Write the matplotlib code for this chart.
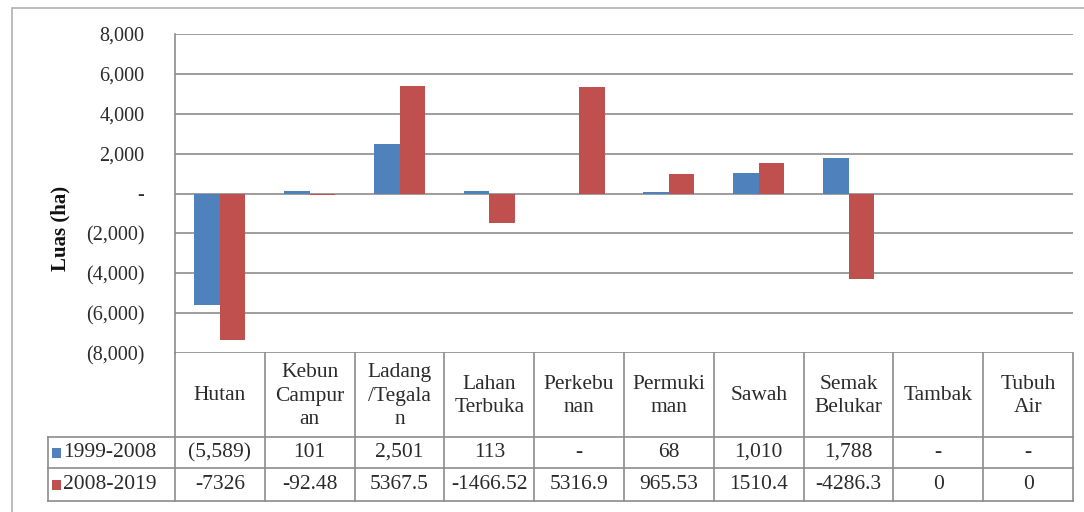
import matplotlib.pyplot as plt
from matplotlib.lines import Line2D
from matplotlib.patches import Rectangle

categories = ["Hutan", "Kebun\nCampur\nan", "Ladang\n/Tegala\nn", "Lahan\nTerbuka",
              "Perkebu\nnan", "Permuki\nman", "Sawah", "Semak\nBelukar", "Tambak", "Tubuh\nAir"]
series_names = ["1999-2008", "2008-2019"]
s1999 = [-5589, 101, 2501, 113, 0, 68, 1010, 1788, 0, 0]
s2008 = [-7326, -92.48, 5367.5, -1466.52, 5316.9, 965.53, 1510.4, -4286.3, 0, 0]
yticks = [-8000, -6000, -4000, -2000, 0, 2000, 4000, 6000, 8000]

colors = ["#4F81BD", "#C0504D"]
grid_c = "#8c8c8c"
txt_c = "#2b2b2b"
plt.rcParams["font.family"] = ["Liberation Serif", "DejaVu Serif"]


def acct(v):
    # Excel accounting-like format
    if v == 0:
        return "-"
    if v < 0:
        return "({:,.0f})".format(-v)
    return "{:,.0f}".format(v)


def raw(v):
    return "{:g}".format(v)


W, H = 1084, 512
fig = plt.figure(figsize=(W / 100, H / 100), dpi=100)

# pixel layout
L, R, T, B = 175, 1073, 34, 353
row_y = [353, 437, 468, 501]
tab_left = 48


def fx(px):
    return px / W


def fy(py):
    return 1 - py / H


ax = fig.add_axes([fx(L), fy(B), fx(R) - fx(L), fy(T) - fy(B)])
n = len(categories)
x = list(range(n))
bw = 0.284
ax.bar([i - bw / 2 for i in x], s1999, width=bw, color=colors[0], zorder=3)
ax.bar([i + bw / 2 for i in x], s2008, width=bw, color=colors[1], zorder=3)
ax.set_xlim(-0.5, n - 0.5)
ax.set_ylim(-8000, 8000)
ax.set_yticks(yticks)
ax.set_yticklabels([acct(v) for v in yticks], fontsize=14.5, color=txt_c)
ax.tick_params(axis="y", length=0, pad=22)
ax.set_xticks([])
ax.grid(axis="y", color=grid_c, linewidth=1.2, zorder=0)
for s in ["top", "right", "bottom"]:
    ax.spines[s].set_visible(False)
ax.spines["left"].set_color(grid_c)
ax.spines["left"].set_linewidth(1.2)

fig.text(fx(60), fy(228), "Luas (ha)", rotation=90, ha="center", va="center",
         fontsize=15, fontweight="bold", color="#111111")

# outer chart border
fig.add_artist(Rectangle((fx(12), fy(H + 5)), fx(W + 10) - fx(12), fy(8) - fy(H + 5),
                         transform=fig.transFigure, fill=False, edgecolor="#b0b0b0", linewidth=1.2))

# data table
colw = (R - L) / n


def hline(py, x0, x1):
    fig.add_artist(Line2D([fx(x0), fx(x1)], [fy(py), fy(py)], color=grid_c, linewidth=1.2))


def vline(px, y0, y1):
    fig.add_artist(Line2D([fx(px), fx(px)], [fy(y0), fy(y1)], color=grid_c, linewidth=1.2))


hline(row_y[1], tab_left, R)
hline(row_y[2], tab_left, R)
hline(row_y[3], tab_left, R)
vline(tab_left, row_y[1], row_y[3])
for i in range(n + 1):
    vline(L + i * colw, row_y[0], row_y[3])

fs = 15.5
for i, c in enumerate(categories):
    cx = L + (i + 0.5) * colw
    fig.text(fx(cx), fy((row_y[0] + row_y[1]) / 2 + 1), c, ha="center", va="center",
             fontsize=fs, linespacing=1.3, color=txt_c)
    fig.text(fx(cx), fy((row_y[1] + row_y[2]) / 2), acct(s1999[i]), ha="center", va="center",
             fontsize=fs, color=txt_c)
    fig.text(fx(cx), fy((row_y[2] + row_y[3]) / 2), raw(s2008[i]), ha="center", va="center",
             fontsize=fs, color=txt_c)

for k, name in enumerate(series_names):
    cy = (row_y[k + 1] + row_y[k + 2]) / 2
    fig.add_artist(Rectangle((fx(52), fy(cy + 5)), fx(9), fy(cy - 5) - fy(cy + 5),
                             transform=fig.transFigure, facecolor=colors[k], edgecolor="none"))
    fig.text(fx(63), fy(cy), name, ha="left", va="center", fontsize=fs, color=txt_c)

fig.savefig("out.png", dpi=100)
